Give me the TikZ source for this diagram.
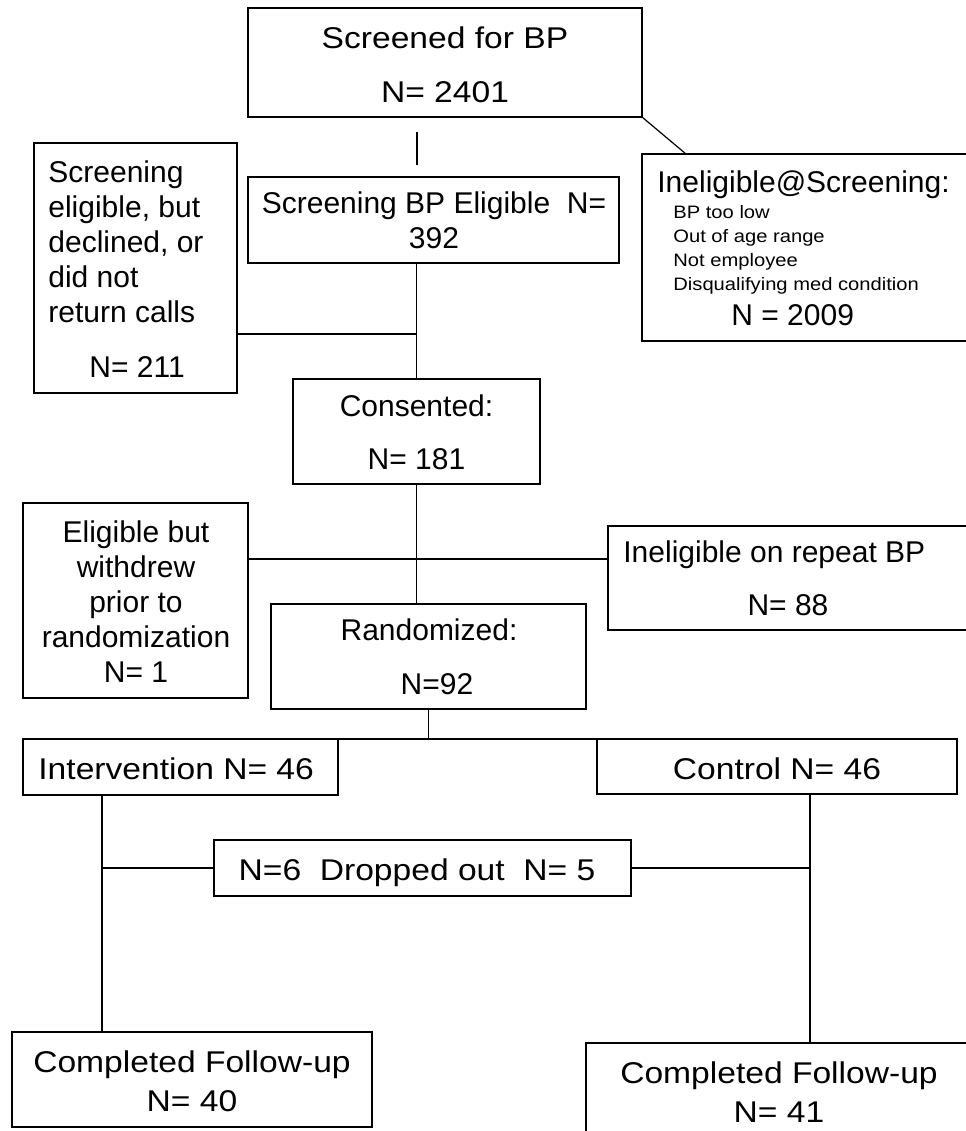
\documentclass[tikz,border=0pt]{standalone}
\usepackage{fontspec}
\setmainfont{Liberation Sans}[FakeStretch=1.12]
\newfontfamily\plainfont{Liberation Sans}
\usetikzlibrary{positioning}

\begin{document}
\begin{tikzpicture}[x=0.5pt,y=-0.5pt,
  box/.style={draw, line width=0.9pt, inner sep=0, outer sep=0},
  txt/.style={inner sep=0, font=\fontsize{15}{17.5}\selectfont},
  narrow/.style={inner sep=0, font=\fontsize{15}{17.5}\plainfont},
  small/.style={inner sep=0, font=\fontsize{9}{12}\selectfont},
  link/.style={line width=0.6pt}]
\useasboundingbox (0,0) rectangle (965,1131);
% boxes
\node[box, minimum width=197pt, minimum height=54.5pt] (scr) at (445,62.5) {};
\node[box, minimum width=185.5pt, minimum height=43pt] (elig) at (433.5,220) {};
\node[box, minimum width=101.5pt, minimum height=125pt] (decl) at (135.5,268) {};
\node[box, minimum width=164pt, minimum height=93.5pt] (inel) at (806,247.5) {};
\node[box, minimum width=123.5pt, minimum height=52.5pt] (cons) at (416.5,431.5) {};
\node[box, minimum width=112.5pt, minimum height=97.5pt] (wdr) at (135.5,600.5) {};
\node[box, minimum width=181pt, minimum height=52pt] (rep) at (789,578) {};
\node[box, minimum width=157.5pt, minimum height=52.5pt] (rand) at (428.5,656.5) {};
\node[box, minimum width=157.5pt, minimum height=28pt] (intv) at (180.5,767) {};
\node[box, minimum width=180pt, minimum height=27.5pt] (ctrl) at (777,766.5) {};
\node[box, minimum width=208.5pt, minimum height=28pt] (drop) at (422.5,868) {};
\node[box, minimum width=180pt, minimum height=47.5pt] (fuI) at (192,1079.5) {};
\node[box, minimum width=192pt, minimum height=48.5pt] (fuC) at (778,1091.5) {};
% texts (base = last line)
\node[txt, anchor=base, align=center] (scrT) at (445,102) {Screened for BP\\[9.5pt]N= 2401};
\node[narrow, anchor=base, align=center] (eligT) at (434,248) {Screening BP Eligible\ \ N=\\392};
\node[narrow, anchor=base west, align=left] (declT) at (48,322) {Screening\\eligible, but\\declined, or\\did not\\return calls};
\node[narrow, anchor=base west] (declN) at (89,377) {N= 211};
\node[narrow, anchor=base west] (inelT) at (657,192) {Ineligible@Screening:};
\node[small, anchor=base west, align=left] (inelL) at (673,290) {BP too low\\Out of age range\\Not employee\\Disqualifying med condition};
\node[narrow, anchor=base west] (inelN) at (731,325) {N = 2009};
\node[narrow, anchor=base, align=center] (consT) at (416.5,469) {Consented:\\[9pt]N= 181};
\node[narrow, anchor=base, align=center] (wdrT) at (136,682) {Eligible but\\withdrew\\prior to\\randomization\\N= 1};
\node[narrow, anchor=base west] (repT) at (623,562) {Ineligible on repeat BP};
\node[narrow, anchor=base] (repN) at (788,615) {N= 88};
\node[narrow, anchor=base] (randT) at (429,640) {Randomized:};
\node[narrow, anchor=base] (randN) at (437,694) {N=92};
\node[txt, anchor=base west] (intvT) at (38,779) {Intervention N= 46};
\node[txt, anchor=base] (ctrlT) at (777,779) {Control N= 46};
\node[txt, anchor=base] (dropT) at (417,880) {N=6\ \ Dropped out\ \ N= 5};
\node[txt, anchor=base, align=center] (fuIT) at (192,1111) {Completed Follow-up\\[2pt]N= 40};
\node[txt, anchor=base, align=center] (fuCT) at (779,1122) {Completed Follow-up\\[2pt]N= 41};
% connectors
\coordinate (stubtop) at (417,132);
\coordinate (stubbot) at (417,165);
\coordinate (il) at ([xshift=-39.25pt]intv.south);
\coordinate (cl) at ([xshift=16.5pt]ctrl.south);
\draw[link] (stubtop) -- (stubbot);
\draw[link] (scr.south east) -- ([xshift=22pt]inel.north west);
\draw[link] (elig.south -| cons.north) -- (cons.north);
\draw[link] ([yshift=-33pt]decl.east) -- ([yshift=-33pt]decl.east -| cons.north);
\draw[link] (cons.south) -- (cons.south |- rand.north);
\draw[link] ([yshift=20.75pt]wdr.east) -- ([yshift=9.5pt]rep.west);
\draw[link] (rand.south) -- (rand.south |- intv.north);
\draw[link] (intv.north east) -- (ctrl.north west);
\draw[link] (il) -- (il |- fuI.north);
\draw[link] (cl) -- (cl |- fuC.north);
\draw[link] (drop.west) -- (drop.west -| il);
\draw[link] (drop.east) -- (drop.east -| cl);
\end{tikzpicture}
\end{document}
